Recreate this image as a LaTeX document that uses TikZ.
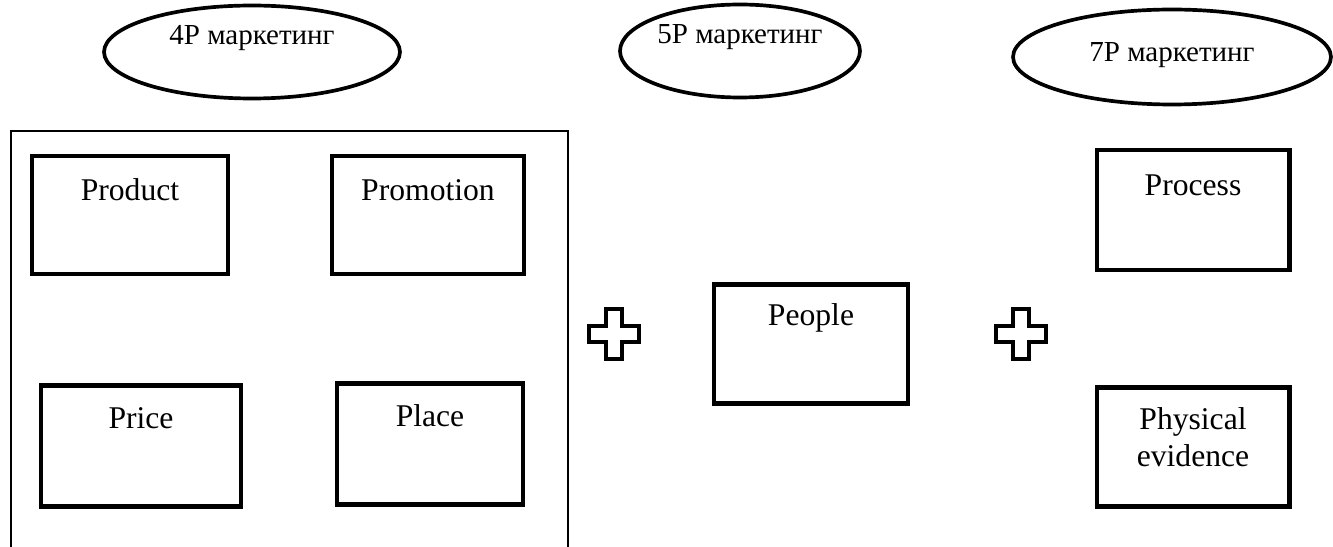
\documentclass[tikz,border=0pt]{standalone}
\usepackage{fontspec}
\setmainfont{Liberation Serif}
\usetikzlibrary{shapes.geometric}

\tikzset{
  pbox/.style={rectangle, draw, line width=2.3pt, inner sep=0pt},
  oval/.style={ellipse, draw, line width=2.1pt, inner sep=0pt},
  ptext/.style={font=\fontsize{18}{21}\selectfont, align=center},
  otext/.style={font=\fontsize{16.5}{19}\selectfont},
  plusline/.style={line width=2.3pt, line join=miter},
}

\begin{document}
\begin{tikzpicture}[x=0.02cm, y=-0.02cm]
  \useasboundingbox (0,0) rectangle (1333,547);

  % ovals on top
  \node[oval, minimum width=5.92cm, minimum height=1.86cm] (p4) at (252,52) {};
  \node[otext] (p4lbl) at (252,38) {4P маркетинг};
  \node[oval, minimum width=4.8cm, minimum height=1.86cm] (p5) at (740,51) {};
  \node[otext] (p5lbl) at (740,37) {5P маркетинг};
  \node[oval, minimum width=6.36cm, minimum height=1.9cm] (p7) at (1172,57) {};
  \node[otext] (p7lbl) at (1172,55) {7P маркетинг};

  % frame round the 4P
  \draw[line width=1.4pt] (11,550) -- (11,131) -- (568,131) -- (568,550);

  \node[pbox, minimum width=3.92cm, minimum height=2.36cm] (product) at (130,215) {};
  \node[ptext] (productlbl) at (130,190) {Product};
  \node[pbox, minimum width=3.84cm, minimum height=2.36cm] (promo) at (428,215) {};
  \node[ptext] (promolbl) at (428,190) {Promotion};
  \node[pbox, minimum width=4cm, minimum height=2.42cm] (price) at (141,446) {};
  \node[ptext] (pricelbl) at (141,418) {Price};
  \node[pbox, minimum width=3.72cm, minimum height=2.42cm] (place) at (430,444) {};
  \node[ptext] (placelbl) at (430,416) {Place};

  % 5P
  \node[pbox, minimum width=3.88cm, minimum height=2.38cm] (people) at (811,344) {};
  \node[ptext] (peoplelbl) at (811,318) {People};

  % 7P
  \node[pbox, minimum width=3.86cm, minimum height=2.4cm] (process) at (1193,210) {};
  \node[ptext] (processlbl) at (1193,185) {Process};
  \node[pbox, minimum width=3.86cm, minimum height=2.38cm] (phys) at (1193,447) {};
  \node[ptext] (physlbl) at (1193,437) {Physical\\evidence};

  % plus signs
  \foreach \cx in {614,1021}
    \draw[plusline] (\cx-8,309) -- ++(16,0) -- ++(0,17) -- ++(17,0) -- ++(0,16)
      -- ++(-17,0) -- ++(0,17) -- ++(-16,0) -- ++(0,-17) -- ++(-17,0)
      -- ++(0,-16) -- ++(17,0) -- cycle;
\end{tikzpicture}
\end{document}
